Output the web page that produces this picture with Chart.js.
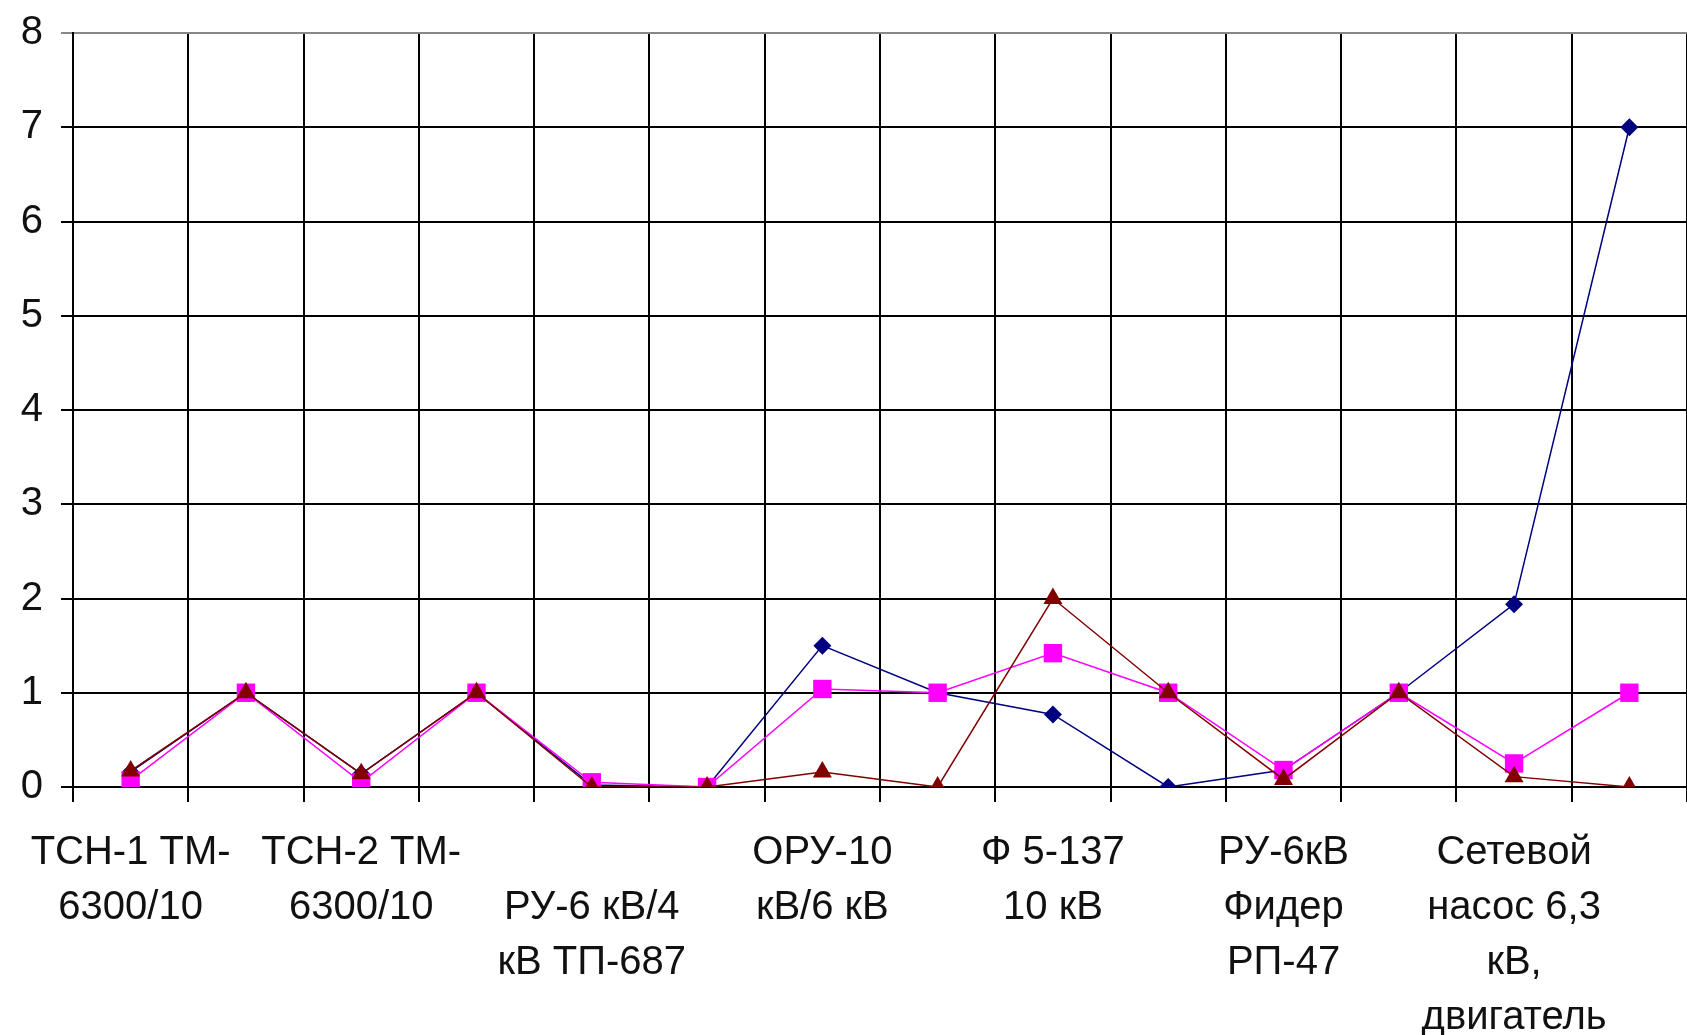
<!DOCTYPE html>
<html>
<head>
<meta charset="utf-8">
<script src="https://cdn.jsdelivr.net/npm/chart.js@4.4.1/dist/chart.umd.min.js"></script>
<style>
  html, body { margin: 0; padding: 0; background: #fff; overflow: hidden; }
  #wrap { width: 1700px; height: 1035px; }
</style>
</head>
<body>
<div id="wrap"><canvas id="faultchart" width="1700" height="1035"></canvas></div>
<script>
// categories (Excel only printed every second name)
const categories = [
  ['ТСН-1 ТМ-', '6300/10'],
  '',
  ['ТСН-2 ТМ-', '6300/10'],
  '',
  ['', 'РУ-6 кВ/4', 'кВ ТП-687'],
  '',
  ['ОРУ-10', 'кВ/6 кВ'],
  '',
  ['Ф 5-137', '10 кВ'],
  '',
  ['РУ-6кВ', 'Фидер', 'РП-47'],
  '',
  ['Сетевой', 'насос 6,3', 'кВ,', 'двигатель'],
  ''
];

const yTicks = [0, 1, 2, 3, 4, 5, 6, 7, 8];

const seriesNavy = [0.16, 1, 0.14, 1, 0.02, 0, 1.5, 1, 0.77, 0, 0.18, 1, 1.94, 7];
const seriesMagenta = [0.07, 1, 0.05, 1, 0.05, 0, 1.04, 1, 1.42, 1, 0.18, 1, 0.25, 1];
const seriesDarkRed = [0.17, 1, 0.14, 1, 0, 0, 0.16, 0, 2, 1, 0.08, 1, 0.11, 0];

const tickFont = { family: '"Liberation Sans", Arial, sans-serif', size: 40, lineHeight: 1.375 };

const ctx = document.getElementById('faultchart').getContext('2d');
const faultChart = new Chart(ctx, {
  type: 'line',
  data: {
    labels: categories,
    datasets: [{
      data: seriesNavy,
      borderColor: '#000080',
      backgroundColor: '#000080',
      borderWidth: 1.5,
      pointStyle: 'rectRot',
      pointRadius: 9,
      pointBorderWidth: 0,
      tension: 0,
      order: 3
    }, {
      data: seriesMagenta,
      borderColor: '#ff00ff',
      backgroundColor: '#ff00ff',
      borderWidth: 1.5,
      pointStyle: 'rect',
      pointRadius: 13,
      pointBorderWidth: 0,
      tension: 0,
      order: 2
    }, {
      data: seriesDarkRed,
      borderColor: '#800000',
      backgroundColor: '#800000',
      borderWidth: 1.5,
      pointStyle: 'triangle',
      pointRadius: 11,
      pointBorderWidth: 0,
      tension: 0,
      order: 1
    }]
  },
  options: {
    responsive: false,
    animation: false,
    layout: { padding: { top: 33, right: 9, bottom: 0, left: 0 } },
    plugins: { legend: { display: false }, tooltip: { enabled: false } },
    scales: {
      x: {
        offset: true,
        grid: { offset: true, color: '#000', lineWidth: 2, tickLength: 15 },
        border: { color: '#000', width: 2 },
        ticks: { autoSkip: false, maxRotation: 0, color: '#111', font: tickFont, padding: 23 },
        afterFit: function (scale) { scale.height = 248; }
      },
      y: {
        min: 0,
        max: 8,
        afterBuildTicks: function (scale) {
          scale.ticks = yTicks.map(v => ({ value: v }));
        },
        grid: {
          color: function (c) { return c.tick && c.tick.value === 8 ? '#888' : '#000'; },
          lineWidth: 2,
          tickLength: 12
        },
        border: { color: '#000', width: 2 },
        ticks: { color: '#111', font: tickFont, padding: 18 },
        afterFit: function (scale) {
          scale.width = 73;
          scale.paddingTop = 0;
          scale.paddingBottom = 0;
        }
      }
    }
  }
});
</script>
</body>
</html>
